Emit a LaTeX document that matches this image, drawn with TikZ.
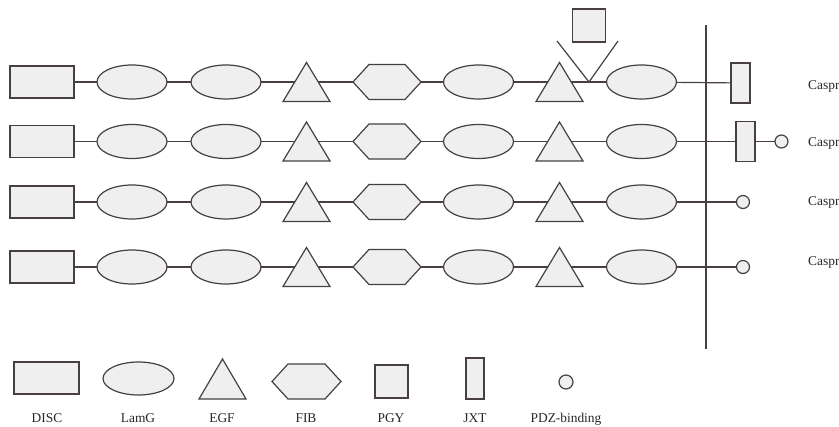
\documentclass[tikz,border=0pt]{standalone}
\usepackage{fontspec}
\setmainfont{Liberation Serif}
\usetikzlibrary{shapes.geometric,backgrounds}
\definecolor{edgecol}{RGB}{72,64,64}
\definecolor{partfill}{RGB}{239,239,239}
\tikzset{
  part/.style={draw=edgecol, fill=partfill, line width=1.2pt},
  disc/.style={part, rectangle, inner sep=0pt, minimum width=64pt, minimum height=32pt},
  lamg/.style={part, ellipse, inner sep=0pt, minimum width=70pt, minimum height=34pt},
  pgy/.style={part, rectangle, inner sep=0pt, minimum size=33pt},
  jxt/.style={part, rectangle, inner sep=0pt, minimum width=19pt, minimum height=40pt},
  pdz/.style={part, circle, inner sep=0pt, minimum size=13pt},
  egf/.style={rectangle, inner sep=0pt, minimum width=51pt, minimum height=43pt,
    path picture={\draw[part]
      ([shift={(2pt,2pt)}]path picture bounding box.south west) --
      ([yshift=-2pt]path picture bounding box.north) --
      ([shift={(-2pt,2pt)}]path picture bounding box.south east) -- cycle;}},
  fib/.style={rectangle, inner sep=0pt, minimum width=72pt, minimum height=39pt,
    path picture={\draw[part]
      ([xshift=2pt]path picture bounding box.west) --
      ([shift={(18pt,-2pt)}]path picture bounding box.north west) --
      ([shift={(-18pt,-2pt)}]path picture bounding box.north east) --
      ([xshift=-2pt]path picture bounding box.east) --
      ([shift={(-18pt,2pt)}]path picture bounding box.south east) --
      ([shift={(18pt,2pt)}]path picture bounding box.south west) -- cycle;}},
  link/.style={draw=edgecol, line width=1.2pt},
  lbl/.style={font=\fontsize{13.4}{16}\selectfont, text=black!85, inner sep=0pt},
}
\begin{document}
\begin{tikzpicture}[x=1pt, y=-1pt]
\useasboundingbox (0,0) rectangle (839,427);

% four domain chains
\foreach \r/\y in {1/82, 2/141.5, 3/202, 4/267} {
  \node[disc] (disc\r) at (42,\y) {};
  \node[lamg] (lamgA\r) at (132,\y) {};
  \node[lamg] (lamgB\r) at (226,\y) {};
  \node[egf]  (egfA\r) at (306.5,\y) {};
  \node[fib]  (fib\r) at (387,\y) {};
  \node[lamg] (lamgC\r) at (478.5,\y) {};
  \node[egf]  (egfB\r) at (559.5,\y) {};
  \node[lamg] (lamgD\r) at (641.5,\y) {};
}

% membrane
\coordinate (memtop) at (706,25);
\coordinate (membot) at (706,349);
\draw[link] (memtop) -- (membot);

% C-terminal parts
\node[jxt] (jxt1) at (740.5,83) {};
\node[jxt] (jxt2) at (745.5,141.5) {};
\node[pdz] (pdz2) at (781.5,141.5) {};
\node[pdz] (pdz3) at (743,202) {};
\node[pdz] (pdz4) at (743,267) {};

% inserted PGY between the last EGF and LamG of the first chain
\node[pgy] (pgy1) at (589,25.5) {};
\coordinate (vtip) at (589,82);
\coordinate (vleft) at (557,41);
\coordinate (vright) at (618,41);
\draw[link] (vleft) -- (vtip) -- (vright);

% chain labels
\foreach \r/\b in {1/89.5, 2/146.5, 3/205.5, 4/266} {
  \node[lbl, anchor=base west] (name\r) at (808,\b) {Caspr};
}

% connectors behind the domains
\begin{scope}[on background layer]
  \foreach \r in {1,2,3,4} {
    \draw[link] (disc\r.center) -- (lamgA\r.center) -- (lamgB\r.center)
      -- (egfA\r.center) -- (fib\r.center) -- (lamgC\r.center)
      -- (egfB\r.center) -- (lamgD\r.center);
  }
  \draw[link] (lamgD1.center) -- (jxt1.center);
  \draw[link] (lamgD2.center) -- (jxt2.center) -- (pdz2.center);
  \draw[link] (lamgD3.center) -- (pdz3.center);
  \draw[link] (lamgD4.center) -- (pdz4.center);
\end{scope}

% legend
\node[disc, minimum width=65pt] (kdisc) at (46.5,378) {};
\node[lamg, minimum width=71pt, minimum height=33pt] (klamg) at (138.5,378.5) {};
\node[egf, minimum height=44pt] (kegf) at (222.5,379) {};
\node[fib, minimum width=73pt] (kfib) at (306.5,381.5) {};
\node[pgy] (kpgy) at (391.5,381.5) {};
\node[jxt, minimum width=18pt, minimum height=41pt] (kjxt) at (475,378.5) {};
\node[pdz, minimum size=14pt] (kpdz) at (566,382) {};

\foreach \n/\x/\t in {kdisc/47/DISC, klamg/138/LamG, kegf/222/EGF, kfib/306/FIB,
                      kpgy/391/PGY, kjxt/475/JXT, kpdz/566/PDZ-binding} {
  \node[lbl, anchor=base] (\n-text) at (\x,423) {\t};
}
\end{tikzpicture}
\end{document}
